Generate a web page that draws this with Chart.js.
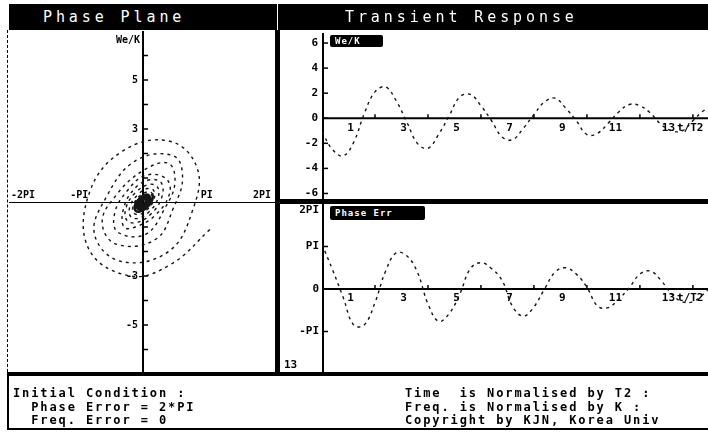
<!DOCTYPE html>
<html>
<head>
<meta charset="utf-8">
<script src="https://cdn.jsdelivr.net/npm/chart.js@4.4.1/dist/chart.umd.min.js"></script>
<style>
  body { margin: 0; width: 708px; height: 435px; overflow: hidden; position: relative; background: #fff;
         font-family: "DejaVu Sans Mono", monospace; }
  canvas { position: absolute; }
  .blk { position: absolute; background: #000; }
  .title { position: absolute; top: 9px; color: #fff; font-size: 15px; line-height: 16px; letter-spacing: 3.9px; white-space: pre; }
  .tag { position: absolute; background: #000; color: #fff; font-size: 9px; font-weight: bold; line-height: 12px;
         padding-left: 5px; border-radius: 2px; letter-spacing: 1px; }
  .info { position: absolute; font-size: 12px; font-weight: bold; line-height: 13.5px; letter-spacing: 1.9px; white-space: pre; color: #000; }
</style>
</head>
<body>

<canvas id="phasePlane" width="268" height="343" style="left:9px;top:31px"></canvas>
<canvas id="weChart" width="426" height="168" style="left:282px;top:33px"></canvas>
<canvas id="errChart" width="426" height="170" style="left:282px;top:204px"></canvas>

<!-- frame -->
<div class="blk" style="left:9px;top:4px;width:699px;height:26px"></div>
<div style="position:absolute;left:277px;top:4px;width:1px;height:26px;background:#fff"></div>
<div style="position:absolute;left:7px;top:30px;height:342px;border-left:1px dashed #000"></div>
<div class="blk" style="left:275px;top:30px;width:5px;height:346px"></div>
<div class="blk" style="left:280px;top:199px;width:428px;height:5px"></div>
<div class="blk" style="left:7px;top:372px;width:701px;height:4px"></div>
<div style="position:absolute;left:7px;top:376px;width:701px;height:52px;border-left:2px solid #000;border-bottom:2px solid #000"></div>

<div class="title" style="left:43px">Phase Plane</div>
<div class="title" style="left:345px">Transient Response</div>
<div class="tag" style="left:330px;top:35px;width:48px">We/K</div>
<div class="tag" style="left:330px;top:206px;width:90px;line-height:14px">Phase Err</div>
<div class="info" style="left:284px;top:358px;letter-spacing:0;font-size:11px">13</div>

<div class="info" style="left:13px;top:387px">Initial Condition :
  Phase Error = 2*PI
  Freq. Error = 0</div>
<div class="info" style="left:405px;top:387px">Time  is Normalised by T2 :
Freq. is Normalised by K :
Copyright by KJN, Korea Univ</div>

<script>
// time samples (t/T2)
const times = [0, 0.4, 0.8, 1.2, 1.6, 2.0, 2.4, 2.8, 3.2, 3.6, 4.0, 4.4, 4.8, 5.2, 5.6, 6.0, 6.4, 6.8,
  7.2, 7.6, 8.0, 8.4, 8.8, 9.2, 9.6, 10.0, 10.4, 10.8, 11.2, 11.6, 12.0, 12.4, 12.8, 13.2, 13.6, 14.0,
  14.4, 14.8, 15.2, 15.6, 16.0, 16.4, 16.8, 17.2, 17.6, 18.0, 18.4, 18.8, 19.2, 19.6, 20.0, 20.4, 20.8,
  21.2, 21.6, 22.0, 22.4, 22.8, 23.2, 23.6, 24.0, 24.4, 24.8, 25.2, 25.6, 26.0, 26.4, 26.8, 27.2, 27.6,
  28.0, 28.4, 28.8, 29.2, 29.6, 30.0, 30.4, 30.8, 31.2, 31.6, 32.0, 32.4, 32.8, 33.2, 33.6, 34.0, 34.4,
  34.8, 35.2, 35.6, 36.0, 36.4, 36.8, 37.2, 37.6, 38.0, 38.4, 38.8, 39.2, 39.6, 40.0];

// frequency error We/K
const weK = [-1.1, -2.5, -3.0, -1.9, 0.4, 2.1, 2.5, 1.4, -0.3, -2.0, -2.4, -1.3, 0.2, 1.7, 1.9, 1.0, -0.2, -1.5,
  -1.7, -0.8, 0.3, 1.3, 1.6, 0.8, -0.2, -1.3, -1.2, -0.4, 0.5, 1.1, 1.0, 0.4, -0.5, -1.0, -1.0, -0.2,
  0.6, 0.93, 0.79, 0.18, -0.48, -0.83, -0.70, -0.16, 0.42, 0.74, 0.62, 0.14, -0.37, -0.65, -0.55, -0.12, 0.32,
  0.57, 0.48, 0.11, -0.28, -0.49, -0.41, -0.1, 0.25, 0.43, 0.37, 0.08, -0.21, -0.37, -0.32, -0.07, 0.18, 0.32,
  0.27, 0.06, -0.16, -0.27, -0.23, -0.05, 0.14, 0.25, 0.21, 0.05, -0.12, -0.21, -0.17, -0.04, 0.11, 0.19, 0.16,
  0.04, -0.09, -0.16, -0.13, -0.03, 0.08, 0.14, 0.12, 0.03, -0.07, -0.12, -0.1, -0.02, 0.05];

// phase error, in units of PI
const phaseErr = [1.05, 0.45, -0.2, -0.85, -0.84, -0.32, 0.42, 0.85, 0.78, 0.4, -0.35, -0.76, -0.58, -0.12, 0.48, 0.62, 0.48, 0.2,
  -0.42, -0.64, -0.42, 0.0, 0.4, 0.5, 0.35, 0.04, -0.4, -0.44, -0.24, 0.03, 0.35, 0.42, 0.2, -0.12, -0.3, -0.3,
  -0.12, 0.12, 0.29, 0.29, 0.12, -0.11, -0.26, -0.26, -0.11, 0.1, 0.23, 0.23, 0.1, -0.08, -0.2, -0.2, -0.08,
  0.07, 0.17, 0.17, 0.07, -0.06, -0.15, -0.15, -0.06, 0.06, 0.14, 0.14, 0.06, -0.05, -0.12, -0.12, -0.05, 0.04,
  0.1, 0.1, 0.04, -0.04, -0.09, -0.09, -0.04, 0.03, 0.07, 0.07, 0.03, -0.03, -0.06, -0.06, -0.03, 0.02, 0.05,
  0.05, 0.02, -0.02, -0.04, -0.04, -0.02, 0.02, 0.04, 0.04, 0.02, -0.01, -0.03, -0.03, -0.01];

// tick labels
const planeXTicks = [-2, -1, 1, 2];
const planeXLabels = ['-2PI', '-PI', 'PI', '2PI'];
const planeYTicks = [5, 3, -3, -5];
const planeYLabels = ['5', '3', '-3', '-5'];
const timeTicks = [1, 3, 5, 7, 9, 11, 13];
const weTicks = [6, 4, 2, 0, -2, -4, -6];
const errTicks = [2, 1, 0, -1];
const errLabels = ['2PI', 'PI', '0', '-PI'];

const LINE = '#151515';
const BLOB_FROM = 62; // inner turns merge into a solid blob on the screen

// axes drawn the old-screen way: through the origin, labels inside the plot
const retroAxes = {
  id: 'retroAxes',
  beforeDatasetsDraw(chart, args, o) {
    const { ctx, chartArea: a, scales: { x, y } } = chart;
    const x0 = o.yAtZero ? x.getPixelForValue(0) : a.left + 1;
    const y0 = y.getPixelForValue(0);
    ctx.save();
    ctx.strokeStyle = '#000';
    ctx.fillStyle = '#000';

    ctx.lineWidth = o.xWidth;
    ctx.beginPath(); ctx.moveTo(a.left, y0); ctx.lineTo(a.right, y0); ctx.stroke();
    ctx.lineWidth = o.yWidth;
    ctx.beginPath(); ctx.moveTo(x0, a.top); ctx.lineTo(x0, a.bottom); ctx.stroke();

    ctx.lineWidth = 1.5;
    o.yMarks.forEach(v => {
      const py = y.getPixelForValue(v);
      ctx.beginPath(); ctx.moveTo(x0, py); ctx.lineTo(x0 + 5, py); ctx.stroke();
    });
    o.xMarks.forEach(v => {
      const px = x.getPixelForValue(v);
      ctx.beginPath(); ctx.moveTo(px, y0); ctx.lineTo(px, y0 - 4); ctx.stroke();
    });

    ctx.font = o.font;
    ctx.textAlign = 'right';
    ctx.textBaseline = 'middle';
    o.yTicks.forEach((v, i) => {
      const py = Math.max(a.top + 6, Math.min(a.bottom - 6, y.getPixelForValue(v)));
      ctx.fillText(o.yLabels[i], x0 - o.yPad, py);
    });

    ctx.textAlign = 'left';
    ctx.textBaseline = o.xAbove ? 'bottom' : 'top';
    o.xTicks.forEach((v, i) => {
      const s = o.xLabels[i];
      const w = ctx.measureText(s).width;
      let left = x.getPixelForValue(v) - w / 2 + o.xShift;
      left = Math.max(a.left + 2, Math.min(a.right - 6 - w, left));
      ctx.fillText(s, left, o.xAbove ? y0 - 2 : y0 + 4);
    });

    if (o.xTitle) ctx.fillText(o.xTitle, x.getPixelForValue(o.xTitleAt), y0 + 4);
    if (o.yTitle) {
      ctx.textAlign = 'right';
      ctx.textBaseline = 'top';
      ctx.fillText(o.yTitle, x0 - 3, a.top + 4);
    }
    ctx.restore();
  }
};

const curve = {
  borderColor: LINE,
  borderWidth: 1.4,
  borderDash: [3, 4],
  pointRadius: 0,
  tension: 0.4,
  showLine: true
};

function baseOptions(xr, yr, pad, axes) {
  return {
    responsive: false,
    animation: false,
    layout: { padding: { left: pad, right: 0, top: 0, bottom: 0 } },
    plugins: { legend: { display: false }, tooltip: { enabled: false }, retroAxes: axes },
    scales: {
      x: { type: 'linear', display: false, min: xr[0], max: xr[1] },
      y: { type: 'linear', display: false, min: yr[0], max: yr[1] }
    }
  };
}

// phase plane: phase error against frequency error
new Chart(document.getElementById('phasePlane'), {
  type: 'scatter',
  data: {
    datasets: [{
      ...curve,
      data: phaseErr.map((p, i) => ({ x: p, y: weK[i] })),
      segment: {
        borderDash: c => c.p0DataIndex >= BLOB_FROM ? [] : undefined,
        borderWidth: c => c.p0DataIndex >= BLOB_FROM ? 2.6 : undefined
      }
    }]
  },
  options: baseOptions([-2.1, 2.1], [-7, 7], 0, {
    yAtZero: true, xWidth: 1.2, yWidth: 2,
    yMarks: [-6, -5, -4, -3, -2, -1, 1, 2, 3, 4, 5, 6],
    xMarks: [],
    yTicks: planeYTicks, yLabels: planeYLabels, yPad: 5,
    xTicks: planeXTicks, xLabels: planeXLabels, xAbove: true, xShift: 0,
    yTitle: 'We/K',
    font: 'bold 10px "DejaVu Sans Mono"'
  }),
  plugins: [retroAxes]
});

// transient response of We/K
new Chart(document.getElementById('weChart'), {
  type: 'scatter',
  data: { datasets: [{ ...curve, data: times.map((t, i) => ({ x: t, y: weK[i] })) }] },
  options: baseOptions([0, 14.57], [-6.6, 6.8], 40, {
    yAtZero: false, xWidth: 2, yWidth: 2,
    yMarks: weTicks,
    xMarks: [2, 4, 6, 8, 10, 12, 14],
    yTicks: weTicks, yLabels: weTicks.map(String), yPad: 5,
    xTicks: timeTicks, xLabels: timeTicks.map(String), xAbove: false, xShift: 2,
    xTitle: 't/T2', xTitleAt: 13.4,
    font: 'bold 11px "DejaVu Sans Mono"'
  }),
  plugins: [retroAxes]
});

// transient response of the phase error
new Chart(document.getElementById('errChart'), {
  type: 'scatter',
  data: { datasets: [{ ...curve, data: times.map((t, i) => ({ x: t, y: phaseErr[i] })) }] },
  options: baseOptions([0, 14.57], [-2, 2], 40, {
    yAtZero: false, xWidth: 2, yWidth: 2,
    yMarks: [1, -1],
    xMarks: [2, 4, 6, 8, 10, 12, 14],
    yTicks: errTicks, yLabels: errLabels, yPad: 4,
    xTicks: timeTicks, xLabels: timeTicks.map(String), xAbove: false, xShift: 2,
    xTitle: 't/T2', xTitleAt: 13.4,
    font: 'bold 11px "DejaVu Sans Mono"'
  }),
  plugins: [retroAxes]
});
</script>
</body>
</html>
